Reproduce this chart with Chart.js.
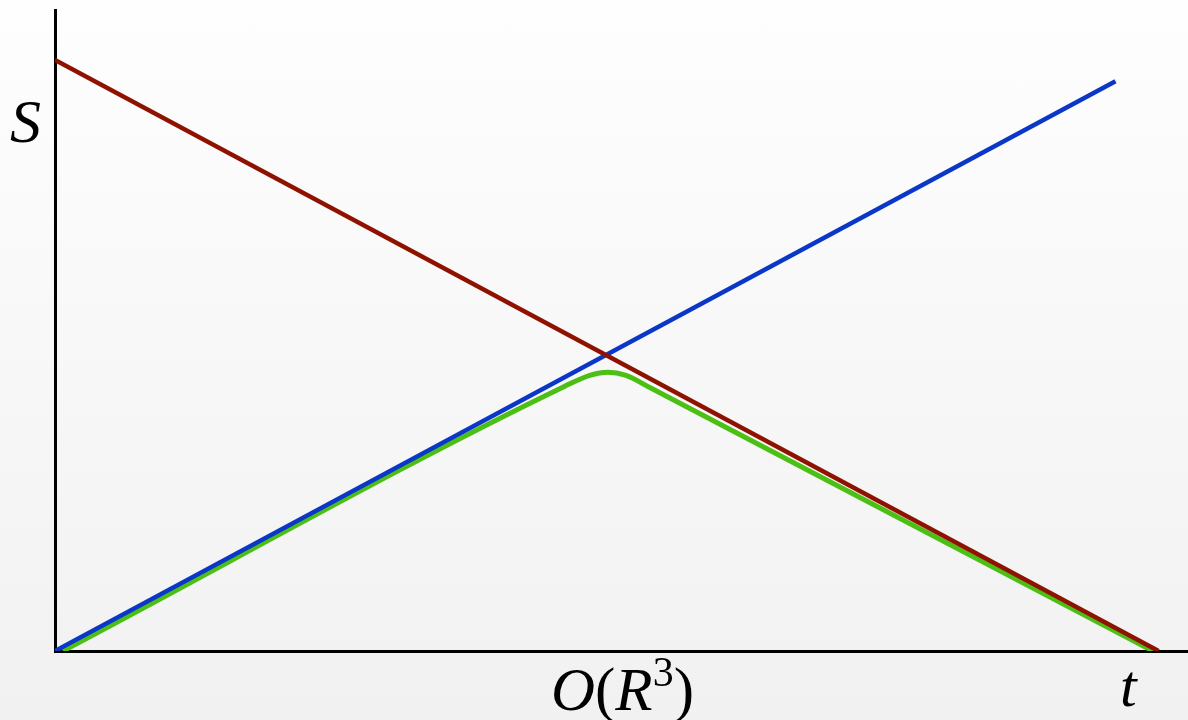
<!DOCTYPE html>
<html>
<head>
<meta charset="utf-8">
<script src="https://cdn.jsdelivr.net/npm/chart.js@4/dist/chart.umd.min.js"></script>
<style>
  html, body { margin: 0; padding: 0; }
  body { width: 1188px; height: 720px; background: linear-gradient(#fefefe, #f1f1f1); }
  #wrap { width: 1188px; height: 720px; }
</style>
</head>
<body>
<div id="wrap"><canvas id="chart"></canvas></div>
<script>
// values, in arbitrary units (x: time, y: S)
const redX = [0, 97.4];
const redY = [92.2, 0];

const blueX = [0, 93.6];
const blueY = [0, 88.9];

const greenX = [0.7, 45.0, 47.2, 48.8, 50.4, 52.5, 96.9];
const greenY = [0, 41.3, 43.0, 43.5, 43.0, 41.1, 0];

const xMax = 100;
const yMax = 100;

function toPoints(xs, ys) {
    return xs.map((x, i) => ({ x: x, y: ys[i] }));
}

const labelsPlugin = {
    id: "labels",
    afterDraw(chart) {
        const ctx = chart.ctx;
        ctx.save();
        ctx.fillStyle = "#000";
        ctx.textBaseline = "alphabetic";
        ctx.textAlign = "left";

        ctx.font = "italic 62px 'Liberation Serif'";
        ctx.fillText("S", 10, 142);

        ctx.font = "italic 60px 'Liberation Serif'";
        ctx.fillText("t", 1120, 706);

        // O(R^3)
        let x = 551;
        const base = 710;
        const parts = [
            ["italic 61px 'Liberation Serif'", "O", 0],
            ["61px 'Liberation Serif'", "(", 0],
            ["italic 61px 'Liberation Serif'", "R", 0],
            ["42px 'Liberation Serif'", "3", -24],
            ["61px 'Liberation Serif'", ")", 0]
        ];
        parts.forEach(([font, txt, dy]) => {
            ctx.font = font;
            ctx.fillText(txt, x, base + dy);
            x += ctx.measureText(txt).width;
        });
        ctx.restore();
    }
};

new Chart(document.getElementById("chart"), {
    type: "line",
    data: {
        datasets: [
            {
                label: "red",
                data: toPoints(redX, redY),
                borderColor: "#8f1200",
                borderWidth: 4.5,
                pointRadius: 0,
                tension: 0
            },
            {
                label: "blue",
                data: toPoints(blueX, blueY),
                borderColor: "#0b37c8",
                borderWidth: 4.5,
                pointRadius: 0,
                tension: 0
            },
            {
                label: "green",
                data: toPoints(greenX, greenY),
                borderColor: "#4cbf14",
                borderWidth: 5,
                pointRadius: 0,
                cubicInterpolationMode: "monotone",
                order: 3
            }
        ]
    },
    options: {
        responsive: true,
        maintainAspectRatio: false,
        animation: false,
        layout: { padding: { top: 10, right: 0, left: 0, bottom: 0 } },
        plugins: {
            legend: { display: false },
            tooltip: { enabled: false }
        },
        scales: {
            x: {
                type: "linear",
                min: 0,
                max: xMax,
                grid: { display: false },
                ticks: { display: false },
                border: { color: "#000", width: 3 },
                afterFit: (scale) => { scale.height = 69; }
            },
            y: {
                type: "linear",
                min: 0,
                max: yMax,
                grid: { display: false },
                ticks: { display: false },
                border: { color: "#000", width: 3 },
                afterFit: (scale) => { scale.width = 55; }
            }
        }
    },
    plugins: [labelsPlugin]
});
</script>
</body>
</html>
